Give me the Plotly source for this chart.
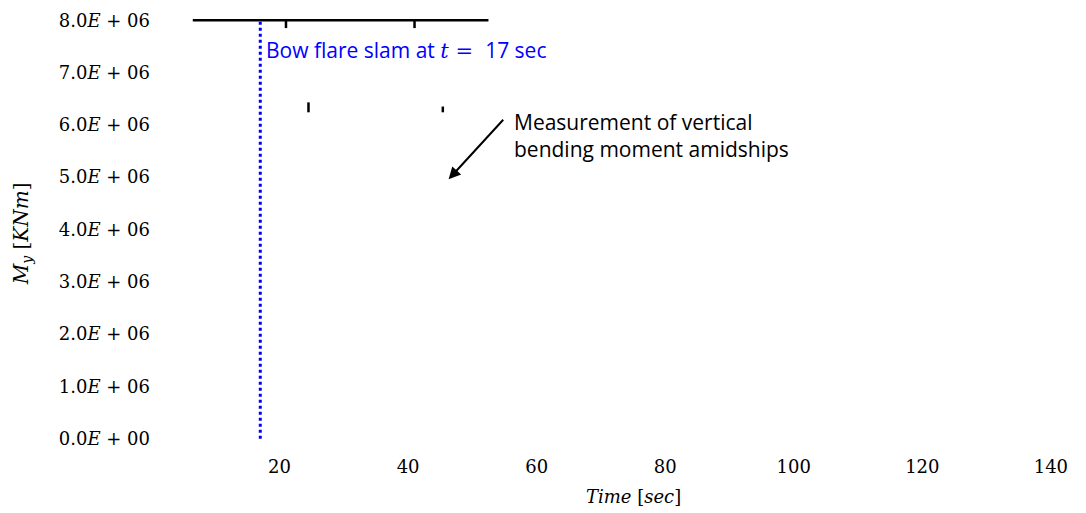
import plotly.graph_objects as go

# ---- data ----
y_tick_vals = [0, 1e6, 2e6, 3e6, 4e6, 5e6, 6e6, 7e6, 8e6]
y_tick_text = ["0.0<i>E</i> + 00", "1.0<i>E</i> + 06", "2.0<i>E</i> + 06", "3.0<i>E</i> + 06",
               "4.0<i>E</i> + 06", "5.0<i>E</i> + 06", "6.0<i>E</i> + 06", "7.0<i>E</i> + 06",
               "8.0<i>E</i> + 06"]
x_tick_vals = [20, 40, 60, 80, 100, 120, 140]

top_line_x = [6.5, 52.5]
top_line_y = [8.0e6, 8.0e6]

top_tick_x = [21, 41]
top_tick_y0 = [8.0e6, 8.0e6]
top_tick_y1 = [7.85e6, 7.85e6]

spike_x = [24.5, 45.4]
spike_y0 = [6.43e6, 6.35e6]
spike_y1 = [6.24e6, 6.24e6]

slam_t = 17
slam_y = [0, 8.0e6]

SERIF = "DejaVu Serif"
SANS = "Open Sans"

fig = go.Figure()

# top horizontal line
fig.add_trace(go.Scatter(x=top_line_x, y=top_line_y, mode="lines",
                         line=dict(color="black", width=2.5), showlegend=False, hoverinfo="skip"))
# small ticks on top line
for x, a, b in zip(top_tick_x, top_tick_y0, top_tick_y1):
    fig.add_trace(go.Scatter(x=[x, x], y=[a, b], mode="lines",
                             line=dict(color="black", width=2.5), showlegend=False, hoverinfo="skip"))
# spikes
for x, a, b in zip(spike_x, spike_y0, spike_y1):
    fig.add_trace(go.Scatter(x=[x, x], y=[a, b], mode="lines",
                             line=dict(color="black", width=2.5), showlegend=False, hoverinfo="skip"))
# slam line
fig.add_trace(go.Scatter(x=[slam_t, slam_t], y=slam_y, mode="lines",
                         line=dict(color="#0000FF", width=3, dash="dot"),
                         showlegend=False, hoverinfo="skip"))

fig.add_annotation(x=slam_t, y=7.43e6, xref="x", yref="y", xanchor="left", yanchor="middle",
                   xshift=4, showarrow=False,
                   text="Bow flare slam at <span style=\"font-family:'DejaVu Serif'\"><i>t</i> = </span> 17 sec",
                   font=dict(family=SANS, size=21, color="#0000FF"))

fig.add_annotation(x=56.2, y=5.80e6, xref="x", yref="y", xanchor="left", yanchor="middle",
                   showarrow=False, align="left",
                   text="Measurement of vertical<br>bending moment amidships",
                   font=dict(family=SANS, size=21, color="black"))

fig.add_annotation(x=46.3, y=4.96e6, xref="x", yref="y", ax=56, ay=-61,
                   showarrow=True, arrowhead=2, arrowsize=1.2, arrowwidth=2, arrowcolor="black",
                   text="")

fig.add_annotation(x=0.518, y=-0.123, xref="paper", yref="paper", showarrow=False,
                   xanchor="center", yanchor="middle",
                   text="<i>Time</i> [<i>sec</i>]", font=dict(family=SERIF, size=18, color="black"))

fig.add_annotation(x=-0.139, y=0.49, xref="paper", yref="paper", showarrow=False,
                   xanchor="center", yanchor="middle", textangle=-90,
                   text="<i>M<sub>y</sub></i> [<i>KNm</i>]", font=dict(family=SERIF, size=20, color="black"))

fig.update_layout(
    width=1086, height=513,
    margin=dict(l=151, r=3, t=15, b=69),
    paper_bgcolor="white", plot_bgcolor="white",
    xaxis=dict(range=[0, 145], tickvals=x_tick_vals, showgrid=False, zeroline=False,
               showline=False, ticks="", ticklabelstandoff=10,
               tickfont=dict(family=SERIF, size=18, color="black")),
    yaxis=dict(range=[-0.1e6, 8.1e6], tickvals=y_tick_vals, ticktext=y_tick_text,
               showgrid=False, zeroline=False, showline=False, ticks="",
               tickfont=dict(family=SERIF, size=18, color="black")),
)

fig.write_html("out.html")
